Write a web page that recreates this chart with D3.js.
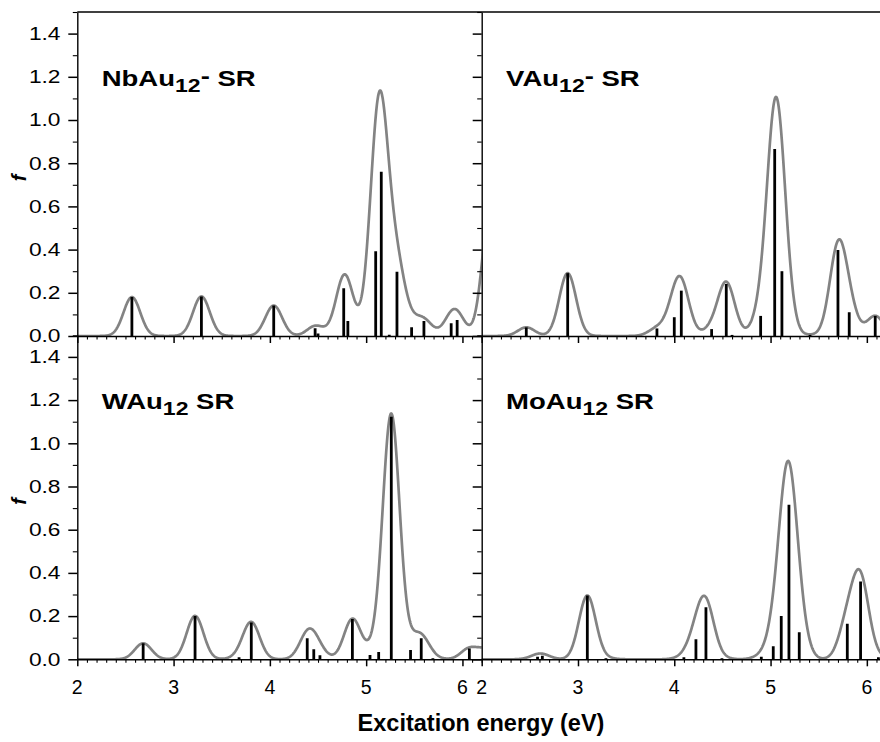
<!DOCTYPE html>
<html><head><meta charset="utf-8">
<script src="https://cdn.jsdelivr.net/npm/d3@7"></script>
<style>
body{margin:0;background:#fff}
svg{display:block}
text{font-family:"Liberation Sans",Arial,Helvetica,sans-serif;fill:#000}
</style>
</head><body>
<svg id="c" width="880" height="742"></svg>
<script>
// ---- data ----
const xTicks = [2, 3, 4, 5, 6];
const yTicks = [0, 0.2, 0.4, 0.6, 0.8, 1.0, 1.2, 1.4];
const xLabels = ["2", "3", "4", "5", "6"];
const yLabels = ["0.0", "0.2", "0.4", "0.6", "0.8", "1.0", "1.2", "1.4"];

// NbAu12- SR (top left): excitation energies (eV) and oscillator strengths
const nbE = [2.567, 3.289, 4.040, 4.470, 4.500, 4.767, 4.810, 5.099, 5.157, 5.240, 5.320, 5.472, 5.600, 5.883, 5.945, 6.300];
const nbF = [0.180, 0.183, 0.141, 0.036, 0.012, 0.221, 0.070, 0.392, 0.760, 0.006, 0.298, 0.040, 0.070, 0.059, 0.074, 0.640];
// VAu12- SR (top right)
const vE = [2.463, 2.893, 3.820, 4.000, 4.073, 4.388, 4.540, 4.600, 4.897, 5.043, 5.118, 5.410, 5.700, 5.817, 6.087];
const vF = [0.040, 0.291, 0.035, 0.087, 0.210, 0.032, 0.241, 0.005, 0.093, 0.866, 0.300, 0.005, 0.398, 0.110, 0.093];
// WAu12 SR (bottom left)
const wE = [2.684, 3.223, 3.680, 3.807, 4.388, 4.456, 4.520, 4.857, 5.040, 5.130, 5.261, 5.461, 5.572, 5.693, 6.072, 6.250];
const wF = [0.074, 0.201, 0.010, 0.170, 0.097, 0.046, 0.019, 0.186, 0.020, 0.034, 1.123, 0.043, 0.097, 0.005, 0.050, 0.045];
// MoAu12 SR (bottom right)
const moE = [2.580, 2.630, 3.097, 3.290, 4.100, 4.225, 4.329, 4.495, 4.904, 5.028, 5.111, 5.191, 5.298, 5.797, 5.935, 6.120];
const moF = [0.012, 0.016, 0.295, 0.005, 0.010, 0.093, 0.241, 0.005, 0.012, 0.060, 0.200, 0.715, 0.125, 0.165, 0.360, 0.010];

// Gaussian broadening width (eV) of the grey envelope
const sigma = 0.087;

// ---- layout ----
const svg = d3.select("#c");
const xDomain = [2, 6.2];
const yDomain = [0, 1.5];
const colX = [[77.3, 481.7], [481.7, 886.1]];
const rowY = [[336, 12], [659.3, 335.3]];

const panels = [
  {E: nbE, F: nbF, col: 0, row: 0, name: "NbAu", sup: "-"},
  {E: vE,  F: vF,  col: 1, row: 0, name: "VAu",  sup: "-"},
  {E: wE,  F: wF,  col: 0, row: 1, name: "WAu",  sup: ""},
  {E: moE, F: moF, col: 1, row: 1, name: "MoAu", sup: ""}
];

const defs = svg.append("defs");

panels.forEach((p, i) => {
  const x = d3.scaleLinear().domain(xDomain).range(colX[p.col]);
  const y = d3.scaleLinear().domain(yDomain).range(rowY[p.row]);
  const x0 = colX[p.col][0], x1 = Math.min(colX[p.col][1], 880);
  const yTop = rowY[p.row][1], yBot = rowY[p.row][0];

  defs.append("clipPath").attr("id", "clip" + i)
    .append("rect").attr("x", x0).attr("y", yTop - 2)
    .attr("width", x1 - x0).attr("height", yBot - yTop + 2);

  const g = svg.append("g");
  const plot = g.append("g").attr("clip-path", `url(#clip${i})`);

  // broadened envelope
  const grid = d3.range(1.9, 6.45, 0.004);
  const env = grid.map(e => [e, d3.sum(p.E, (ei, k) => p.F[k] * Math.exp(-((e - ei) ** 2) / (2 * sigma * sigma)))]);
  plot.append("path").datum(env)
    .attr("fill", "none").attr("stroke", "#838383").attr("stroke-width", 2.7)
    .attr("d", d3.line().x(d => x(d[0])).y(d => y(d[1])));

  // sticks
  plot.selectAll("line.stick").data(p.E.map((e, k) => [e, p.F[k]])).enter()
    .append("line").attr("class", "stick")
    .attr("x1", d => x(d[0])).attr("x2", d => x(d[0]))
    .attr("y1", y(0)).attr("y2", d => y(d[1]))
    .attr("stroke", "#000").attr("stroke-width", 2.8);

  // x axis: minor + major ticks
  const minor = d3.range(20, 63, 1).map(v => v / 10).filter(v => xTicks.indexOf(v) < 0);
  g.append("g").attr("transform", `translate(0,${yBot})`)
    .call(d3.axisBottom(x).tickValues(minor).tickSize(3.5).tickSizeOuter(0).tickFormat(""))
    .call(s => s.select(".domain").remove())
    .call(s => s.selectAll("line").attr("stroke-width", 1.1));
  g.append("g").attr("transform", `translate(0,${yBot})`)
    .call(d3.axisBottom(x).tickValues(xTicks).tickSize(7).tickSizeOuter(0).tickFormat(""))
    .call(s => s.select(".domain").attr("stroke-width", 1.4))
    .call(s => s.selectAll("line").attr("stroke-width", 1.5));

  // y axis: minor + major ticks
  const yMinor = [0.1, 0.3, 0.5, 0.7, 0.9, 1.1, 1.3, 1.5];
  g.append("g").attr("transform", `translate(${x0},0)`)
    .call(d3.axisLeft(y).tickValues(yMinor).tickSize(4.5).tickSizeOuter(0).tickFormat(""))
    .call(s => s.select(".domain").remove())
    .call(s => s.selectAll("line").attr("stroke-width", 1.1));
  g.append("g").attr("transform", `translate(${x0},0)`)
    .call(d3.axisLeft(y).tickValues(yTicks).tickSize(9).tickSizeOuter(0).tickFormat(""))
    .call(s => s.select(".domain").attr("stroke-width", 1.4))
    .call(s => s.selectAll("line").attr("stroke-width", 1.5));

  // y tick labels on left column
  if (p.col === 0) {
    g.selectAll("text.yl").data(yTicks).enter().append("text")
      .attr("transform", (d) => `translate(60.5,${y(d) + 6.3}) scale(1.3,1)`)
      .attr("text-anchor", "end").style("font-size", "17.5px")
      .text((d, k) => yLabels[k]);
    g.append("text")
      .attr("transform", `translate(26,${yTop + 166}) rotate(-90)`)
      .attr("text-anchor", "middle")
      .style("font-size", "20px").style("font-weight", "bold").style("font-style", "italic")
      .text("f");
  }
  // x tick labels on bottom row
  if (p.row === 1) {
    g.selectAll("text.xl").data(xTicks).enter().append("text")
      .attr("x", d => x(d)).attr("y", 694)
      .attr("text-anchor", "middle").style("font-size", "19.5px")
      .text((d, k) => xLabels[k]);
  }

  // panel label
  const t = g.append("text")
    .attr("transform", `translate(${x0 + 24.4},${yTop + 74}) scale(1.28,1)`)
    .style("font-size", "21.5px").style("font-weight", "bold");
  t.append("tspan").text(p.name);
  t.append("tspan").attr("dy", 5.8).style("font-size", "18px").text("12");
  if (p.sup) t.append("tspan").attr("dy", -8.5).text(p.sup);
  t.append("tspan").attr("dy", p.sup ? 2.7 : -5.8).text(" SR");
});

// top frame line
svg.append("line").attr("x1", 77.3).attr("x2", 880).attr("y1", 12).attr("y2", 12)
  .attr("stroke", "#000").attr("stroke-width", 1.3);

// axis title
svg.append("text")
  .attr("x", 481).attr("y", 731).attr("text-anchor", "middle")
  .style("font-size", "23.5px").style("font-weight", "bold")
  .text("Excitation energy (eV)");
</script>
</body></html>
